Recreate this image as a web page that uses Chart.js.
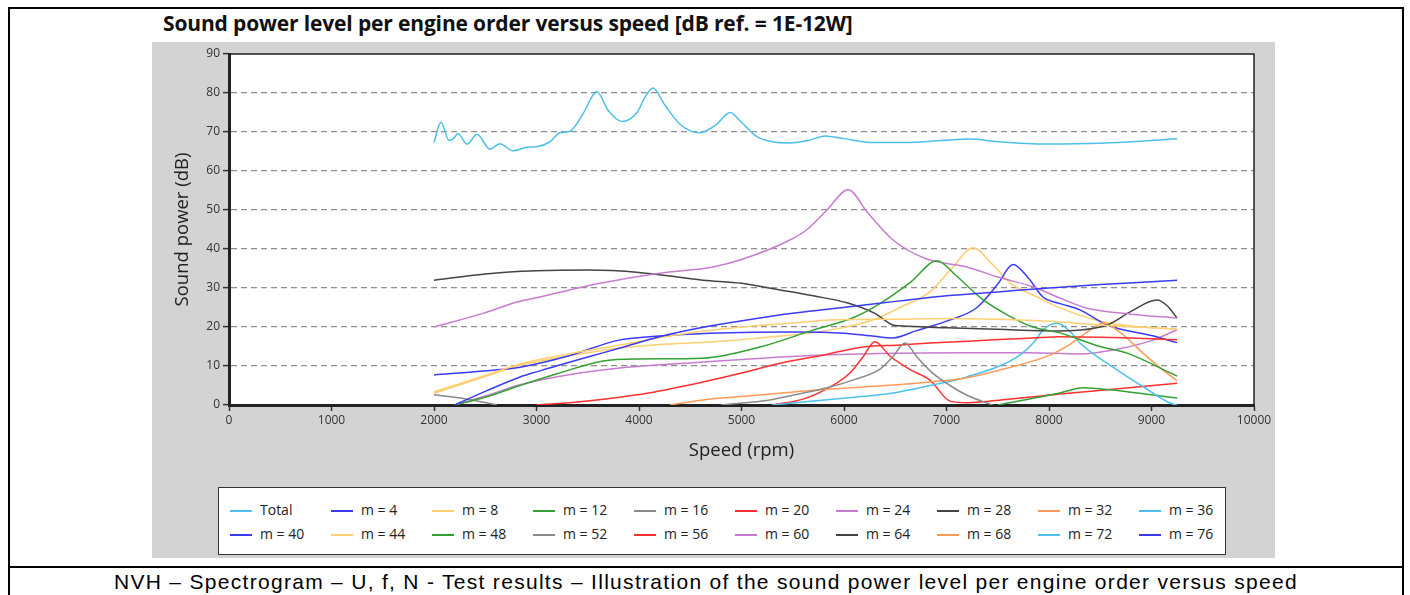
<!DOCTYPE html>
<html>
<head>
<meta charset="utf-8">
<script src="https://cdn.jsdelivr.net/npm/chart.js@4.4.1/dist/chart.umd.min.js"></script>
<style>
  body { margin: 0; background: #fff; width: 1410px; height: 595px; overflow: hidden; position: relative; font-family: "Open Sans", sans-serif; }
  #frame { position: absolute; left: 8px; top: 7px; width: 1392px; height: 600px; border: 2px solid #000; }
  #divider { position: absolute; left: 8px; top: 566px; width: 1396px; height: 2px; background: #000; }
  #title { position: absolute; left: 163px; top: 9px; font-size: 21px; font-weight: 700; color: #111; white-space: nowrap; letter-spacing: -0.15px; }
  #panel { position: absolute; left: 152px; top: 42px; width: 1123px; height: 516px; background: #d3d3d3; }
  #chartBox { position: absolute; left: 0; top: 0; width: 1123px; height: 440px; }
  #legend { position: absolute; left: 66px; top: 445px; width: 1006px; height: 66px; background: #fff; border: 1px solid #333; }
  .item { position: absolute; height: 20px; line-height: 20px; font-size: 14px; color: #222; white-space: nowrap; }
  .item span.sw { display: inline-block; width: 22px; height: 2px; vertical-align: middle; margin-right: 8px; }
  #caption { position: absolute; left: 8px; top: 570px; width: 1396px; text-align: center; font-family: "Liberation Sans", Arial, sans-serif; font-size: 21px; letter-spacing: 1.3px; color: #000; }
</style>
</head>
<body>
<div id="frame"></div>
<div id="divider"></div>
<div id="title">Sound power level per engine order versus speed [dB ref. = 1E-12W]</div>
<div id="panel">
  <div id="chartBox"><canvas id="diagram-canvas"></canvas></div>
  <div id="legend"></div>
</div>
<div id="caption">NVH – Spectrogram – U, f, N - Test results – Illustration of the sound power level per engine order versus speed</div>
<script>
// [rpm, dB] pairs
const total = [[2000,67.3],[2068,72.5],[2146,67.8],[2190,68.3],[2234,69.6],[2322,66.9],[2420,69.4],[2546,65.6],[2644,67],[2771,65.2],[2907,66.1],[3015,66.3],[3132,67.5],[3229,69.8],[3327,70.2],[3450,74.5],[3590,80.3],[3700,75.5],[3834,72.7],[3980,75],[4060,79],[4137,81.3],[4250,77],[4400,72],[4595,69.8],[4750,71.8],[4888,75],[5000,72.5],[5151,68.8],[5300,67.5],[5473,67.2],[5650,67.8],[5815,69],[6000,68.3],[6283,67.3],[6600,67.3],[6937,67.8],[7229,68.2],[7500,67.5],[7980,66.9],[8500,67.1],[9000,67.8],[9250,68.3]];
const m4 = [[2200,0],[2517,3.7],[2840,7.2],[3000,8.5],[3500,12.3],[3815,14.6],[4200,17.5],[4600,19.8],[5054,21.8],[5500,23.5],[6029,25.1],[6546,26.7],[7000,28],[7500,29],[8000,30],[8500,30.9],[9000,31.6],[9250,32]];
const m8 = [[2000,3.4],[2517,7.7],[2840,10.5],[3300,13],[3815,15.4],[4500,18.5],[5000,20],[5500,21],[5863,21.8],[6546,22],[7000,22.2],[7500,22],[8000,21.5],[8500,20.5],[9000,19.8],[9250,19.5]];
const m12 = [[2200,0],[2500,2],[2840,5],[3200,8],[3650,11.3],[4000,11.8],[4624,12],[5200,15],[5698,19.2],[6100,22.5],[6351,26],[6650,31.5],[6907,37],[7100,33],[7356,27],[7600,23],[7844,20],[8107,18.5],[8498,15],[8761,13.3],[9250,7.4]];
const m16 = [[4800,0],[5200,1],[5500,2.5],[5863,4.6],[6100,6.5],[6351,9.2],[6480,12.5],[6595,15.9],[6712,12.3],[6850,8.5],[7034,5],[7200,2.5],[7395,0.5],[7450,0]];
const m20 = [[3000,0],[3400,0.8],[3815,2],[4078,3],[4624,5.9],[5000,8.2],[5376,10.7],[5800,12.8],[6185,14.9],[6546,15.4],[6839,15.9],[7300,16.5],[7844,17.2],[8107,17.5],[8500,17.4],[9000,17],[9250,16.7]];
const m24 = [[2000,20],[2478,23.5],[2810,26.4],[3000,27.5],[3620,31.2],[4200,33.8],[4722,35.4],[5000,37.3],[5473,42.3],[5639,45],[5834,50],[6040,55.2],[6234,49.2],[6478,42.3],[6800,37.5],[7200,35.4],[7500,32.8],[7844,30.3],[8100,27.5],[8371,24.8],[8800,23.3],[9250,22.3]];
const m28 = [[2000,32],[2500,33.6],[3000,34.4],[3500,34.6],[4000,34],[4624,32],[5000,31.2],[5376,29.5],[5700,28],[6029,26.2],[6300,23.5],[6478,20.5],[6546,20.3],[7000,19.8],[7500,19.4],[8107,19],[8566,20.5],[8800,24],[9054,26.9],[9150,25.5],[9250,22.3]];
const m32 = [[4300,0],[4624,1.3],[5200,2.6],[5698,3.8],[6300,4.8],[6839,5.9],[7200,7],[7522,9],[8010,12.8],[8200,15.5],[8400,19.2],[8527,21],[8700,18.5],[8917,13.3],[9100,9.2],[9250,6.2]];
const m36 = [[5300,0],[5700,1],[6100,2],[6478,3.1],[6839,5],[7200,7.2],[7688,12.3],[7850,16],[7941,19.2],[8078,21],[8200,19],[8302,15.9],[8663,9],[8900,5],[9180,0.5],[9250,0]];
const m40 = [[2000,7.7],[2517,8.8],[2840,9.7],[3300,12.5],[3815,16.7],[4200,17.7],[4600,18.3],[5000,18.6],[5500,18.7],[6000,18.4],[6300,17.6],[6478,17.2],[6700,19],[7000,21.5],[7298,25],[7500,31],[7649,36],[7800,32.5],[7941,27.7],[8107,26],[8302,24.4],[8566,20.5],[9000,17.8],[9250,16]];
const m44 = [[2000,3],[2517,7.5],[2840,10.2],[3300,12.5],[3815,14.6],[4200,15.5],[4722,16.2],[5300,17.5],[5863,19.2],[6300,22],[6546,25],[6839,29],[7050,35],[7259,40.3],[7450,36],[7620,31.3],[7900,27.5],[8107,24.9],[8500,21.5],[8820,20.2],[9250,19.5]];
const m48 = [[7500,0],[7800,1.5],[8107,3.1],[8332,4.4],[8600,3.9],[9000,2.6],[9250,1.8]];
const m52 = [[2000,2.6],[2300,1.6],[2615,0]];
const m56 = [[5300,0],[5600,1.5],[5863,4.6],[6050,8],[6185,12.3],[6302,16.2],[6450,12.5],[6650,9],[6839,6.4],[7034,1],[7200,0.6],[7600,1.5],[8107,2.8],[8700,4.2],[9250,5.6]];
const m60 = [[2200,0],[2500,2.3],[2840,5.2],[3424,8.2],[3815,9.5],[4200,10.3],[4624,11],[5200,12],[5800,12.8],[6546,13.3],[7200,13.4],[7800,13.4],[8302,13.1],[8700,14.5],[9000,16.5],[9250,19.3]];
const m64 = [];
const m68 = [];
const m72 = [];
const m76 = [];

const seriesNames = ["Total","m = 4","m = 8","m = 12","m = 16","m = 20","m = 24","m = 28","m = 32","m = 36",
                     "m = 40","m = 44","m = 48","m = 52","m = 56","m = 60","m = 64","m = 68","m = 72","m = 76"];
const seriesData = [total,m4,m8,m12,m16,m20,m24,m28,m32,m36,m40,m44,m48,m52,m56,m60,m64,m68,m72,m76];
// colour cycle repeats every 9 series
const palette = ["#4cc0ea","#3b3bf5","#ffcf70","#34a034","#8a8a8a","#ff3030","#c77ccf","#444444","#ff9a5a"];

const xTicks = [0,1000,2000,3000,4000,5000,6000,7000,8000,9000,10000];
const yTicks = [0,10,20,30,40,50,60,70,80,90];

const plotFrame = {
  id: 'plotFrame',
  beforeDraw(chart) {
    const a = chart.chartArea, c = chart.ctx;
    c.save();
    c.fillStyle = '#fff';
    c.fillRect(a.left, a.top, a.right - a.left, a.bottom - a.top);
    c.restore();
  },
  afterDraw(chart) {
    const a = chart.chartArea, c = chart.ctx;
    c.save();
    c.strokeStyle = '#222';
    c.lineWidth = 1.5;
    c.beginPath();
    c.moveTo(a.left, a.top); c.lineTo(a.right, a.top); c.lineTo(a.right, a.bottom);
    c.stroke();
    c.restore();
  }
};

const datasets = seriesData.map((d, i) => ({
  label: seriesNames[i],
  data: d.map(p => ({ x: p[0], y: p[1] })),
  borderColor: palette[i % 9],
  backgroundColor: palette[i % 9],
  borderWidth: 1.5,
  pointRadius: 0,
  cubicInterpolationMode: 'monotone',
  fill: false
}));

const chartEl = document.getElementById("diagram-canvas").getContext("2d");
const chart = new Chart(chartEl, {
  type: 'line',
  data: { datasets: datasets },
  options: {
    responsive: true,
    maintainAspectRatio: false,
    animation: false,
    layout: { padding: { top: 12, right: 21, left: 0, bottom: 0 } },
    plugins: { legend: { display: false }, tooltip: { enabled: false } },
    scales: {
      x: {
        type: 'linear', min: 0, max: 10000,
        afterBuildTicks: s => { s.ticks = xTicks.map(v => ({ value: v })); },
        afterFit: s => { s.height = 77; },
        ticks: { color: '#333', font: { family: 'Open Sans', size: 12 }, padding: 2, callback: v => String(v) },
        grid: { drawOnChartArea: false, drawTicks: true, tickLength: 6, tickColor: '#333', tickWidth: 1.5 },
        border: { color: '#222', width: 3 },
        title: { display: true, text: 'Speed (rpm)', color: '#222', font: { family: 'Open Sans', size: 18.5 }, padding: { top: 4, bottom: 20 } }
      },
      y: {
        min: 0, max: 90,
        afterBuildTicks: s => { s.ticks = yTicks.map(v => ({ value: v })); },
        afterFit: s => { s.width = 77; },
        ticks: { color: '#333', font: { family: 'Open Sans', size: 12 }, padding: 3, callback: v => String(v) },
        grid: {
          color: ctx => (ctx.tick && (ctx.tick.value === 0 || ctx.tick.value === 90)) ? 'rgba(0,0,0,0)' : '#8f8f8f',
          lineWidth: 1.2, tickLength: 6, tickColor: '#333', tickWidth: 1.5, tickBorderDash: []
        },
        border: { color: '#222', width: 3, dash: [6, 4] },
        title: { display: true, text: 'Sound power (dB)', color: '#222', font: { family: 'Open Sans', size: 18.5 }, padding: { top: 20, bottom: 4 } }
      }
    }
  },
  plugins: [plotFrame]
});

// grid-style legend built from the chart's datasets
const legendEl = document.getElementById('legend');
chart.data.datasets.forEach((ds, i) => {
  const el = document.createElement('div');
  el.className = 'item';
  el.style.left = (11 + (i % 10) * 101) + 'px';
  el.style.top = (12 + Math.floor(i / 10) * 24) + 'px';
  el.innerHTML = '<span class="sw" style="background:' + ds.borderColor + '"></span>' + ds.label;
  legendEl.appendChild(el);
});
</script>
</body>
</html>
